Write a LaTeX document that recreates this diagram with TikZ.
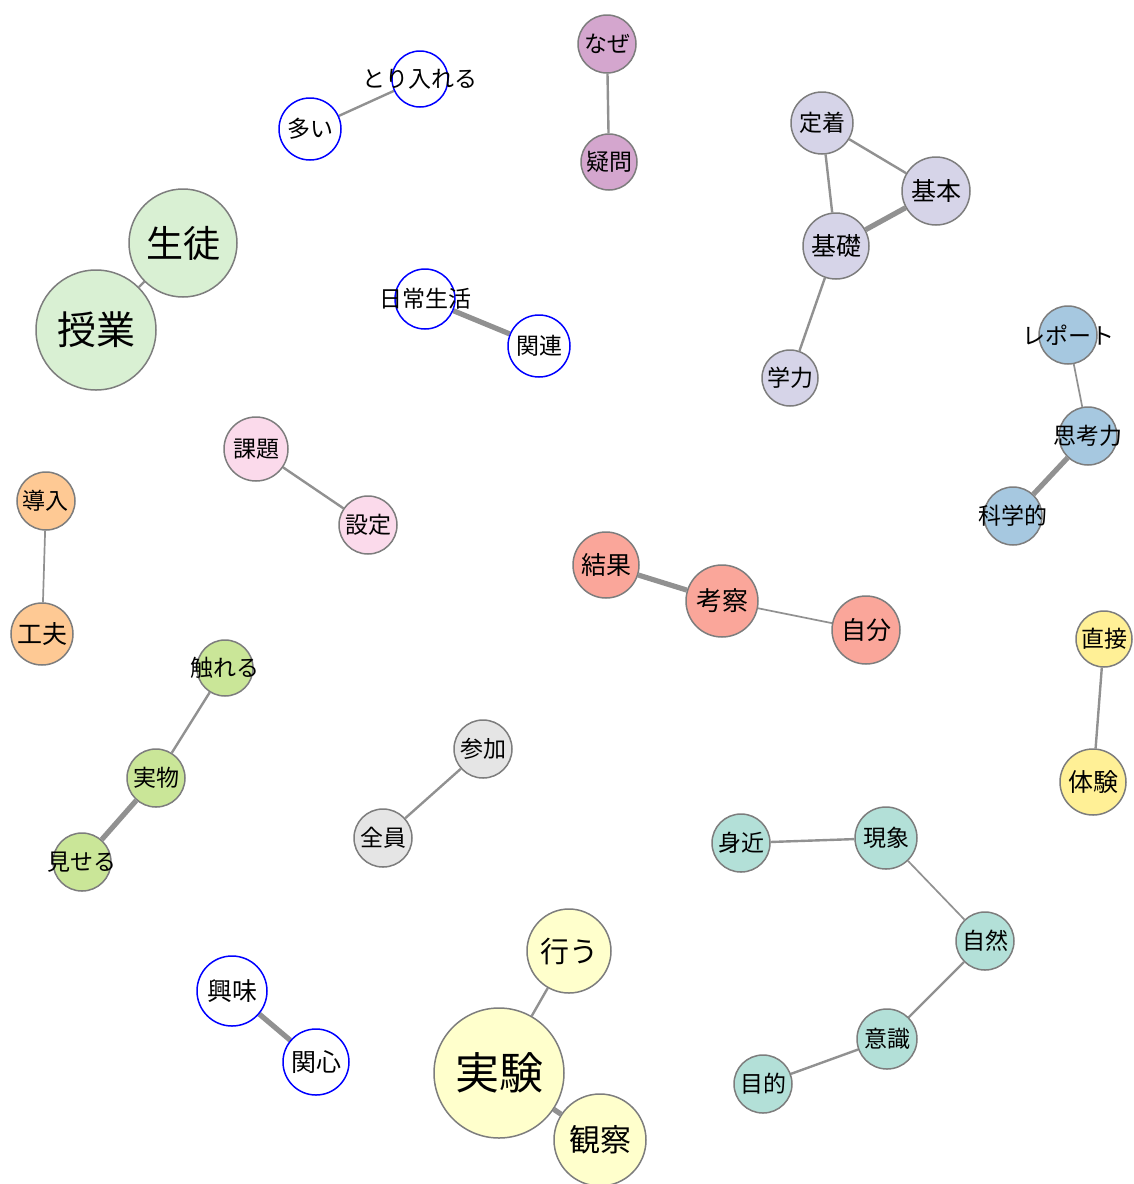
\documentclass[tikz,border=0pt]{standalone}
\usepackage{fontspec}
\setmainfont{Noto Sans CJK JP}
\usetikzlibrary{backgrounds}
\definecolor{ringgray}{RGB}{125,125,125}
\definecolor{linkgray}{RGB}{145,145,145}
\definecolor{cgreen}{RGB}{217,240,211}
\definecolor{cpurple}{RGB}{212,166,206}
\definecolor{clav}{RGB}{214,212,232}
\definecolor{cblue}{RGB}{166,200,224}
\definecolor{cpink}{RGB}{251,218,235}
\definecolor{corange}{RGB}{254,201,148}
\definecolor{csalmon}{RGB}{250,166,154}
\definecolor{cyellow}{RGB}{255,240,150}
\definecolor{clime}{RGB}{202,230,152}
\definecolor{cgray}{RGB}{229,229,229}
\definecolor{cteal}{RGB}{179,224,216}
\definecolor{ccream}{RGB}{255,255,204}
\newcommand\kwtext[1]{\raisebox{-0.12em}{\makebox[0pt]{#1}}}
\begin{document}
\begin{tikzpicture}[x=0.5pt,y=-0.5pt,
    kw/.style={circle,draw=ringgray,line width=0.75pt,fill=#1,inner sep=0pt,
      font=\fontsize{11.5}{12}\selectfont},
    free/.style={circle,draw=blue,line width=0.75pt,fill=white,inner sep=0pt,
      font=\fontsize{11.5}{12}\selectfont},
    link/.style={draw=linkgray,line width=1.2pt},
    thin link/.style={draw=linkgray,line width=0.85pt},
    thick link/.style={draw=linkgray,line width=2.6pt}]
  \useasboundingbox (0,0) rectangle (1134,1184);
  % blue, not in a group
  \node[free,minimum size=28pt] (toriireru) at (420,79) {\kwtext{とり入れる}};
  \node[free,minimum size=31pt] (ooi) at (310,129) {\kwtext{多い}};
  \node[free,minimum size=30pt] (nichijo) at (425,299) {\kwtext{日常生活}};
  \node[free,minimum size=31pt] (kanren) at (539,346) {\kwtext{関連}};
  \node[free,minimum size=35pt,font=\fontsize{12.5}{13}\selectfont] (kyomi) at (232,991) {\kwtext{興味}};
  \node[free,minimum size=33pt,font=\fontsize{12.5}{13}\selectfont] (kanshin) at (316,1062) {\kwtext{関心}};
  % groups
  \node[kw=cpurple,minimum size=29pt] (naze) at (607,44) {\kwtext{なぜ}};
  \node[kw=cpurple,minimum size=28pt] (gimon) at (609,162) {\kwtext{疑問}};
  \node[kw=cgreen,minimum size=54pt,font=\fontsize{18.5}{19}\selectfont] (seito) at (183,243) {\kwtext{生徒}};
  \node[kw=cgreen,minimum size=60pt,font=\fontsize{19.5}{20}\selectfont] (jugyo) at (96,330) {\kwtext{授業}};
  \node[kw=clav,minimum size=31pt] (teichaku) at (822,123) {\kwtext{定着}};
  \node[kw=clav,minimum size=34pt,font=\fontsize{12.5}{13}\selectfont] (kihon) at (936,191) {\kwtext{基本}};
  \node[kw=clav,minimum size=33pt,font=\fontsize{12.5}{13}\selectfont] (kiso) at (836,246) {\kwtext{基礎}};
  \node[kw=clav,minimum size=28pt] (gakuryoku) at (790,378) {\kwtext{学力}};
  \node[kw=cblue,minimum size=29pt] (repoto) at (1068,335) {\kwtext{レポート}};
  \node[kw=cblue,minimum size=29pt] (shikoryoku) at (1088,436) {\kwtext{思考力}};
  \node[kw=cblue,minimum size=29pt] (kagakuteki) at (1013,516) {\kwtext{科学的}};
  \node[kw=cpink,minimum size=32pt] (kadai) at (256,449) {\kwtext{課題}};
  \node[kw=cpink,minimum size=29pt] (settei) at (368,525) {\kwtext{設定}};
  \node[kw=corange,minimum size=29pt] (donyu) at (46,501) {\kwtext{導入}};
  \node[kw=corange,minimum size=31pt,font=\fontsize{12.5}{13}\selectfont] (kufu) at (42,634) {\kwtext{工夫}};
  \node[kw=csalmon,minimum size=33pt,font=\fontsize{12.5}{13}\selectfont] (kekka) at (606,565) {\kwtext{結果}};
  \node[kw=csalmon,minimum size=36pt,font=\fontsize{13}{13}\selectfont] (kosatsu) at (722,601) {\kwtext{考察}};
  \node[kw=csalmon,minimum size=34pt,font=\fontsize{12.5}{13}\selectfont] (jibun) at (866,630) {\kwtext{自分}};
  \node[kw=cyellow,minimum size=28pt] (chokusetsu) at (1104,639) {\kwtext{直接}};
  \node[kw=cyellow,minimum size=33pt,font=\fontsize{12.5}{13}\selectfont] (taiken) at (1093,782) {\kwtext{体験}};
  \node[kw=clime,minimum size=28pt] (fureru) at (225,668) {\kwtext{触れる}};
  \node[kw=clime,minimum size=29pt] (jitsubutsu) at (156,778) {\kwtext{実物}};
  \node[kw=clime,minimum size=29pt] (miseru) at (82,862) {\kwtext{見せる}};
  \node[kw=cgray,minimum size=29pt] (sanka) at (483,749) {\kwtext{参加}};
  \node[kw=cgray,minimum size=29pt] (zenin) at (383,838) {\kwtext{全員}};
  \node[kw=cteal,minimum size=29pt] (mijika) at (741,843) {\kwtext{身近}};
  \node[kw=cteal,minimum size=31pt] (gensho) at (886,838) {\kwtext{現象}};
  \node[kw=cteal,minimum size=29pt] (shizen) at (985,941) {\kwtext{自然}};
  \node[kw=cteal,minimum size=30pt] (ishiki) at (887,1039) {\kwtext{意識}};
  \node[kw=cteal,minimum size=29pt] (mokuteki) at (763,1084) {\kwtext{目的}};
  \node[kw=ccream,minimum size=42pt,font=\fontsize{14.5}{15}\selectfont] (okonau) at (569,951) {\kwtext{行う}};
  \node[kw=ccream,minimum size=65pt,font=\fontsize{22}{22}\selectfont] (jikken) at (499,1073) {\kwtext{実験}};
  \node[kw=ccream,minimum size=46pt,font=\fontsize{15.5}{16}\selectfont] (kansatsu) at (600,1140) {\kwtext{観察}};
  % links
  \begin{scope}[on background layer]
    \draw[link] (ooi) -- (toriireru);
    \draw[thick link] (nichijo) -- (kanren);
    \draw[thick link] (kyomi) -- (kanshin);
    \draw[link] (naze) -- (gimon);
    \draw[link] (seito) -- (jugyo);
    \draw[link] (teichaku) -- (kihon);
    \draw[link] (teichaku) -- (kiso);
    \draw[thick link] (kiso) -- (kihon);
    \draw[link] (kiso) -- (gakuryoku);
    \draw[thin link] (repoto) -- (shikoryoku);
    \draw[thick link] (shikoryoku) -- (kagakuteki);
    \draw[link] (kadai) -- (settei);
    \draw[thin link] (donyu) -- (kufu);
    \draw[thick link] (kekka) -- (kosatsu);
    \draw[thin link] (kosatsu) -- (jibun);
    \draw[link] (chokusetsu) -- (taiken);
    \draw[link] (fureru) -- (jitsubutsu);
    \draw[thick link] (jitsubutsu) -- (miseru);
    \draw[link] (sanka) -- (zenin);
    \draw[link] (mijika) -- (gensho);
    \draw[thin link] (gensho) -- (shizen);
    \draw[link] (shizen) -- (ishiki);
    \draw[link] (ishiki) -- (mokuteki);
    \draw[link] (okonau) -- (jikken);
    \draw[thick link] (jikken) -- (kansatsu);
  \end{scope}
\end{tikzpicture}
\end{document}
